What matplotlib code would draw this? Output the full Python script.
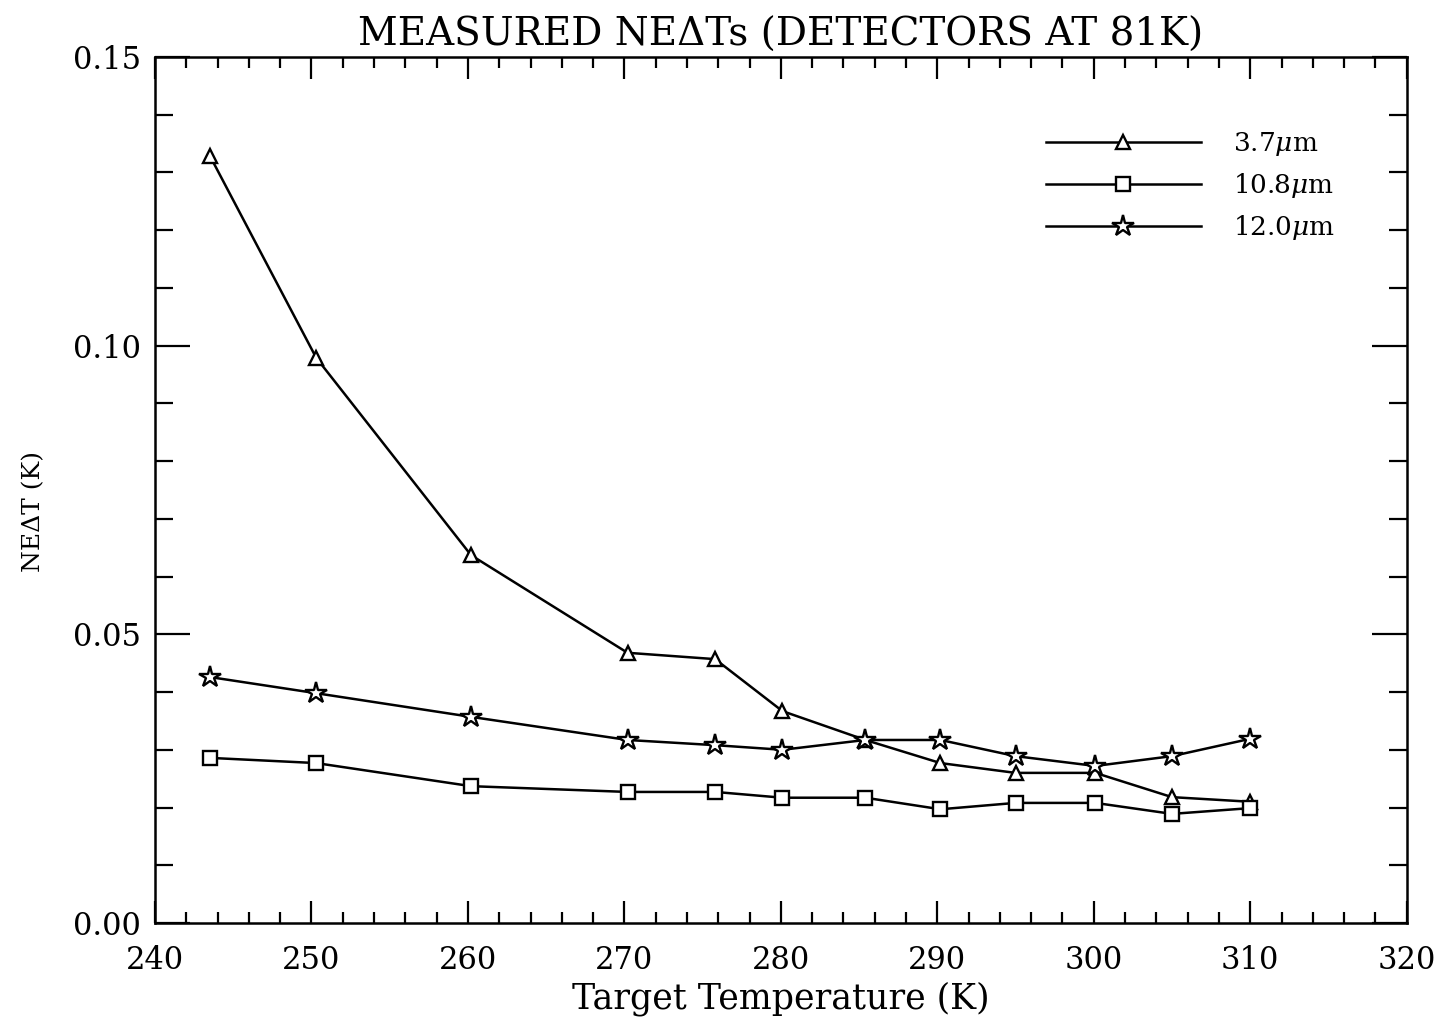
import matplotlib
matplotlib.use('Agg')
import matplotlib.pyplot as plt
from matplotlib.ticker import MultipleLocator

plt.rcParams['mathtext.fontset'] = 'dejavuserif'
plt.rcParams['font.family'] = 'DejaVu Serif'

# target temperatures (K) and measured NEdT (K) per channel
temps = [243.5, 250.3, 260.2, 270.2, 275.8, 280.1, 285.4, 290.2, 295.0, 300.1, 305.0, 310.0]
nedt_37 = [0.1329, 0.0979, 0.0637, 0.0468, 0.0457, 0.0367, 0.0317, 0.0277, 0.0260, 0.0260, 0.0218, 0.0210]
nedt_108 = [0.0286, 0.0277, 0.0237, 0.0227, 0.0227, 0.0217, 0.0217, 0.0197, 0.0208, 0.0208, 0.0189, 0.0199]
nedt_120 = [0.0426, 0.0398, 0.0357, 0.0317, 0.0308, 0.0300, 0.0317, 0.0317, 0.0289, 0.0272, 0.0289, 0.0319]
labels = [r'3.7$\mu$m', r'10.8$\mu$m', r'12.0$\mu$m']
markers = ['^', 's', '*']
msizes = [10, 10, 16]

fig = plt.figure(figsize=(14.42, 10.25), dpi=100)
ax = fig.add_axes([0.1075, 0.0995, 0.868, 0.845])

for vals, mk, ms, lab in zip([nedt_37, nedt_108, nedt_120], markers, msizes, labels):
    ax.plot(temps, vals, color='black', lw=1.8, marker=mk, ms=ms,
            mfc='white', mec='black', mew=1.7, label=lab)

ax.set_xlim(240, 320)
ax.set_ylim(0, 0.15)
ax.xaxis.set_major_locator(MultipleLocator(10))
ax.xaxis.set_minor_locator(MultipleLocator(2))
ax.yaxis.set_major_locator(MultipleLocator(0.05))
ax.yaxis.set_minor_locator(MultipleLocator(0.01))
ax.yaxis.set_major_formatter(plt.FormatStrFormatter('%.2f'))

ax.tick_params(which='both', direction='in', top=True, right=True, width=1.6,
               labelsize=22)
ax.tick_params(axis='x', which='major', length=16, pad=16)
ax.tick_params(axis='x', which='minor', length=8)
ax.tick_params(axis='y', which='major', length=25, pad=10)
ax.tick_params(axis='y', which='minor', length=13)
for sp in ax.spines.values():
    sp.set_linewidth(1.8)

ax.set_title('MEASURED NE\u0394Ts (DETECTORS AT 81K)', fontsize=28, pad=8)
ax.set_xlabel('Target Temperature (K)', fontsize=25, labelpad=4)
ax.set_ylabel('NE\u0394T (K)', fontsize=18)
ax.yaxis.set_label_coords(-0.088, 0.475)

leg = ax.legend(loc='upper left', bbox_to_anchor=(0.701, 0.931), frameon=False,
                borderpad=0, numpoints=1, handlelength=5.9, handletextpad=1.2,
                labelspacing=0.5, prop={'size': 19})

fig.savefig('out.png', dpi=100)
